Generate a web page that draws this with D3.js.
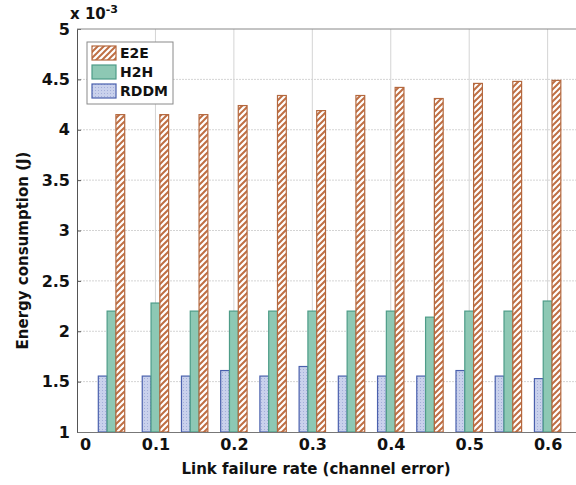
<!DOCTYPE html>
<html>
<head>
<meta charset="utf-8">
<script src="https://cdn.jsdelivr.net/npm/d3@7"></script>
<style>
  body { margin: 0; background: #fff; }
  svg text { font-family: "DejaVu Sans", sans-serif; font-weight: bold; fill: #111; }
</style>
</head>
<body>
<div id="chart"></div>
<script>
// energy consumption (x 10^-3 J) per link failure rate
var rates = [0.044, 0.1, 0.15, 0.2, 0.25, 0.3, 0.35, 0.4, 0.45, 0.5, 0.55, 0.6];
var e2e  = [4.15, 4.15, 4.15, 4.24, 4.34, 4.19, 4.34, 4.42, 4.31, 4.46, 4.48, 4.49];
var h2h  = [2.2, 2.28, 2.2, 2.2, 2.2, 2.2, 2.2, 2.2, 2.14, 2.2, 2.2, 2.3];
var rddm = [1.555, 1.555, 1.555, 1.61, 1.555, 1.65, 1.555, 1.555, 1.555, 1.61, 1.555, 1.53];
var seriesNames = ["RDDM", "H2H", "E2E"];
var legendNames = ["E2E", "H2H", "RDDM"];
var xTicks = [0, 0.1, 0.2, 0.3, 0.4, 0.5, 0.6];
var yTicks = [1, 1.5, 2, 2.5, 3, 3.5, 4, 4.5, 5];

var width = 576,
    height = 485;

var x = d3.scaleLinear().domain([0, 0.64]).range([77, 579]);
var y = d3.scaleLinear().domain([1, 5]).range([432, 29]);
var barW = 8.8;

var fills = { E2E: "url(#hatch)", H2H: "#8dc8b4", RDDM: "url(#dots)" };
var strokes = { E2E: "#b4683e", H2H: "#4e9c88", RDDM: "#4a60ad" };
var values = { E2E: e2e, H2H: h2h, RDDM: rddm };

var svg = d3.select("#chart").append("svg")
    .attr("width", width)
    .attr("height", height);

var defs = svg.append("defs");
var hatch = defs.append("pattern")
    .attr("id", "hatch")
    .attr("patternUnits", "userSpaceOnUse")
    .attr("width", 6).attr("height", 6);
hatch.append("rect").attr("width", 6).attr("height", 6).attr("fill", "#fff");
hatch.append("path")
    .attr("d", "M-1,7 L7,-1 M-1,1 L1,-1 M5,7 L7,5")
    .attr("stroke", "#bf6f44").attr("stroke-width", 2);

var dots = defs.append("pattern")
    .attr("id", "dots")
    .attr("patternUnits", "userSpaceOnUse")
    .attr("width", 3).attr("height", 3);
dots.append("rect").attr("width", 3).attr("height", 3).attr("fill", "#c9d1ec");
dots.append("rect").attr("width", 1).attr("height", 1).attr("fill", "#a3aed9");

svg.append("clipPath").attr("id", "clip")
  .append("rect").attr("x", 77).attr("y", 0).attr("width", 500).attr("height", 485);

// grid
var grid = svg.append("g").attr("clip-path", "url(#clip)");
grid.selectAll(".hgrid")
    .data(yTicks.slice(1, -1))
  .enter().append("line")
    .attr("x1", 77).attr("x2", 579)
    .attr("y1", function(d) { return y(d); })
    .attr("y2", function(d) { return y(d); })
    .attr("stroke", "#d4d4d4").attr("stroke-width", 1)
    .attr("stroke-dasharray", "2,1");
grid.selectAll(".vgrid")
    .data(xTicks.slice(1))
  .enter().append("line")
    .attr("x1", function(d) { return x(d); })
    .attr("x2", function(d) { return x(d); })
    .attr("y1", y(5)).attr("y2", y(1))
    .attr("stroke", "#d4d4d4").attr("stroke-width", 1);

// bars
var groups = svg.selectAll(".grp")
    .data(rates)
  .enter().append("g")
    .attr("class", "grp");

seriesNames.forEach(function(name, k) {
  groups.append("rect")
      .attr("x", function(d) { return x(d) + (k - 1.5) * barW; })
      .attr("y", function(d, i) { return y(values[name][i]); })
      .attr("width", barW)
      .attr("height", function(d, i) { return y(1) - y(values[name][i]); })
      .attr("fill", fills[name])
      .attr("stroke", strokes[name])
      .attr("stroke-width", 1.2);
});

// axes
var yAxis = svg.append("g")
    .attr("transform", "translate(77,0)")
    .call(d3.axisLeft(y).tickValues(yTicks).tickSize(-4).tickPadding(7)
      .tickFormat(function(d) { return d; }));
yAxis.selectAll("text").style("font-size", "16px");
yAxis.selectAll("line").attr("stroke", "#555");
yAxis.select(".domain").attr("stroke", "#555");

var xAxis = svg.append("g")
    .attr("transform", "translate(0,432)")
    .call(d3.axisBottom(x).tickValues(xTicks).tickSize(0).tickPadding(7)
      .tickFormat(function(d) { return d; }));
xAxis.selectAll("text").style("font-size", "16px")
    .attr("dx", function(d) { return d === 0 ? 8 : 0; });
xAxis.select(".domain").attr("stroke", "#777");

svg.append("line")
    .attr("x1", 77).attr("x2", 579)
    .attr("y1", y(5)).attr("y2", y(5))
    .attr("stroke", "#888");

// labels
svg.append("text")
    .attr("transform", "translate(28," + ((y(1) + y(5)) / 2 + 20) + ") rotate(-90)")
    .attr("text-anchor", "middle")
    .style("font-size", "15px")
    .text("Energy consumption (J)");

svg.append("text")
    .attr("x", 316).attr("y", 474)
    .attr("text-anchor", "middle")
    .style("font-size", "15px")
    .text("Link failure rate (channel error)");

var mult = svg.append("text")
    .attr("x", 70).attr("y", 19)
    .style("font-size", "15px");
mult.append("tspan").text("x 10");
mult.append("tspan").attr("dy", -6).style("font-size", "11px").text("-3");

// legend
var legend = svg.append("g").attr("transform", "translate(87,42)");
legend.append("rect")
    .attr("width", 86).attr("height", 62)
    .attr("fill", "#fff").attr("stroke", "#8a8a8a");
var item = legend.selectAll(".item")
    .data(legendNames)
  .enter().append("g")
    .attr("transform", function(d, i) { return "translate(5," + (4 + i * 19) + ")"; });
item.append("rect")
    .attr("width", 24).attr("height", 14)
    .attr("fill", function(d) { return fills[d]; })
    .attr("stroke", function(d) { return strokes[d]; })
    .attr("stroke-width", 1.2);
item.append("text")
    .attr("x", 28).attr("y", 12)
    .style("font-size", "14px")
    .text(function(d) { return d; });
</script>
</body>
</html>
